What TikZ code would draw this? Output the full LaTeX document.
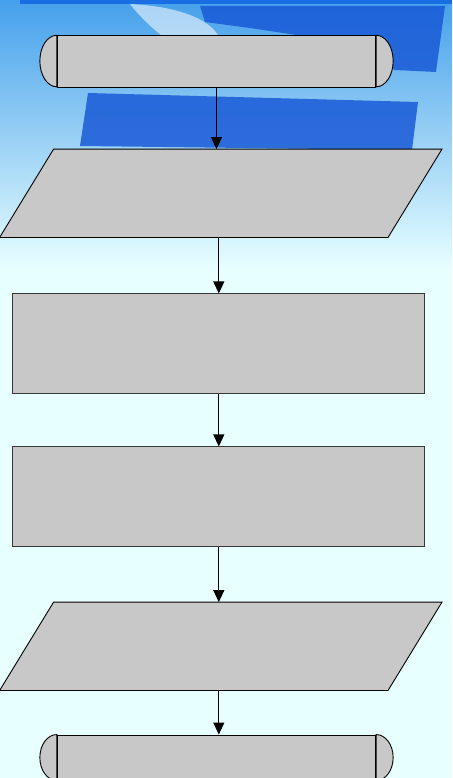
\documentclass[tikz,border=0pt]{standalone}
\usepackage{tikz}
\usetikzlibrary{arrows.meta}

\definecolor{bgcyan}{RGB}{232,255,255}
\definecolor{skyblue}{RGB}{70,160,235}
\definecolor{deepblue}{RGB}{25,90,215}
\definecolor{barblue}{RGB}{25,110,228}
\definecolor{boxgray}{RGB}{200,200,200}
\definecolor{edgegray}{RGB}{55,55,55}

\begin{document}
\begin{tikzpicture}[
    x=1pt, y=-1pt,
    term/.style={rectangle, draw=black, fill=boxgray, line width=0.9pt, minimum width=318.4pt, inner sep=0pt},
    iobody/.style={rectangle, minimum width=388pt, minimum height=88pt, inner sep=0pt},
    ioedge/.style={draw=black, fill=boxgray, line width=0.9pt},
    proc/.style={rectangle, draw=edgegray, fill=boxgray, line width=1pt, minimum width=412.3pt, minimum height=99.5pt, inner sep=0pt},
    arrow/.style={-{Triangle[width=11pt,length=12pt]}, line width=1.1pt},
    endcap/.style={draw=black, fill=boxgray, line width=0.9pt}
  ]

    \useasboundingbox (0,0) rectangle (452,778);

    % Background
    \fill[bgcyan] (0,0) rectangle (452,778);
    \shade[top color=skyblue, bottom color=bgcyan] (0,0) rectangle (452,270);
    \fill[white, opacity=0.55] (130,4) .. controls (210,8) and (240,40) .. (210,70) .. controls (180,50) and (150,30) .. (130,4);
    \fill[deepblue, opacity=0.85] (200,6) -- (445,6) -- (436,72) -- (395,70) -- (330,40) -- (250,28) -- (205,22) -- cycle;
    \fill[deepblue, opacity=0.85] (88,93) -- (418,102) -- (412,150) -- (80,146) -- cycle;
    \fill[barblue] (20,0) rectangle (452,4);

    % Top - Start terminator
    \node[term, minimum height=51.6pt] (start) at (216.5,61.5) {};
    \draw[endcap] (start.north west) arc[start angle=90, end angle=270, x radius=17pt, y radius=25.8pt] -- cycle;
    \draw[endcap] (start.north east) arc[start angle=90, end angle=-90, x radius=17pt, y radius=25.8pt] -- cycle;

    % Input
    \node[iobody] (input) at (220.8,193.3) {};
    \draw[ioedge] ([xshift=-27pt]input.south west) -- ([xshift=-27pt]input.south east)
      -- ([xshift=27pt]input.north east) -- ([xshift=27pt]input.north west) -- cycle;

    % Processing steps
    \node[proc] (procone) at (218.8,343.7) {};
    \node[proc] (proctwo) at (218.8,496.7) {};

    % Output
    \node[iobody] (output) at (220.8,646.3) {};
    \draw[ioedge] ([xshift=-27pt]output.south west) -- ([xshift=-27pt]output.south east)
      -- ([xshift=27pt]output.north east) -- ([xshift=27pt]output.north west) -- cycle;

    % Bottom - End terminator
    \node[term, minimum height=46pt] (stop) at (216.5,758) {};
    \draw[endcap] (stop.north west) arc[start angle=90, end angle=270, x radius=17pt, y radius=23pt] -- cycle;
    \draw[endcap] (stop.north east) arc[start angle=90, end angle=-90, x radius=17pt, y radius=23pt] -- cycle;

    % Arrows
    \draw[arrow] (start.south) -- (start.south |- input.north);
    \draw[arrow] (procone.north |- input.south) -- (procone.north);
    \draw[arrow] (procone.south) -- (proctwo.north);
    \draw[arrow] (proctwo.south) -- (proctwo.south |- output.north);
    \draw[arrow] (proctwo.south |- output.south) -- (proctwo.south |- stop.north);

  \end{tikzpicture}
\end{document}
